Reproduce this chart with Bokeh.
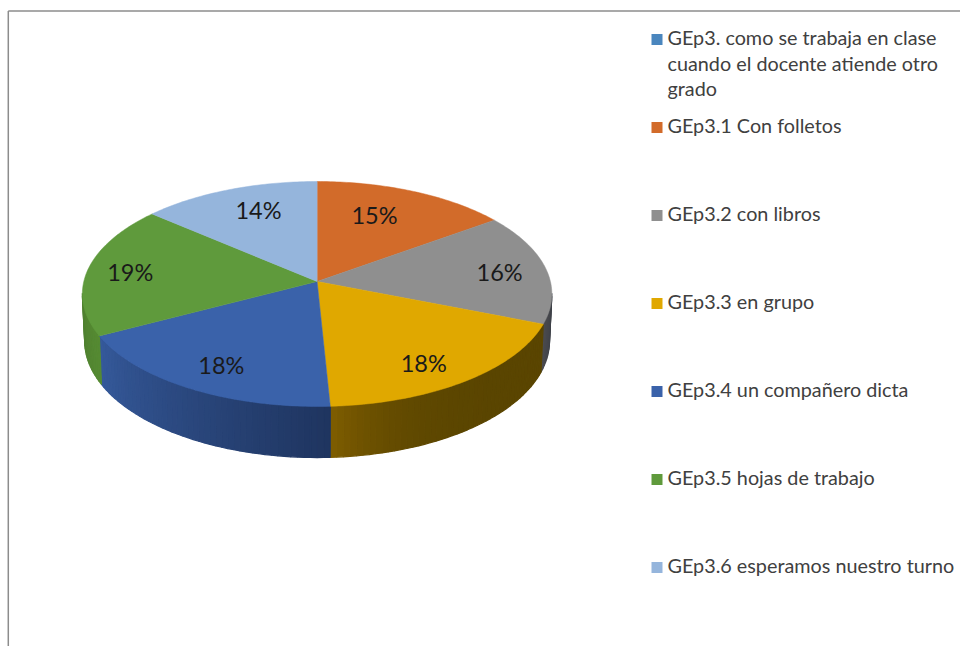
import math
from bokeh.plotting import figure
from bokeh.models import Range1d
from bokeh.core.properties import value
from bokeh.embed import file_html
from bokeh.resources import INLINE

# ---- data ----
categories = ["GEp3. como se trabaja en clase\ncuando el docente atiende otro\ngrado",
              "GEp3.1 Con folletos", "GEp3.2 con libros", "GEp3.3 en grupo",
              "GEp3.4 un compañero dicta", "GEp3.5 hojas de trabajo",
              "GEp3.6 esperamos nuestro turno"]
values = [0, 15, 16, 18.2, 18.1, 19, 13.7]
labels = ["", "15%", "16%", "18%", "18%", "19%", "14%"]
top_colors = ["#4A86BE", "#D26B2A", "#8F8F8F", "#E0A800", "#3A62AA", "#5F9A3C", "#95B5DC"]
wall_start = ["#4A86BE", "#D26B2A", "#3A3E46", "#5A4500", "#1F3560", "#558A32", "#95B5DC"]
wall_end = ["#4A86BE", "#D26B2A", "#4A4A4E", "#7D5C00", "#35599A", "#4F8030", "#95B5DC"]
wall_gamma = [1, 1, 1, 5, 1, 1, 1]
label_dx = [0, -12, 22, 5, -9, -26, 5]
label_dy = [0, -2, 0, 14, 11, -1, -5]

# ---- layout (page pixels) ----
W, H = 960, 646
CX, CY, A, B, K = 316.6, 281.0, 233.3, 111.1, 0.111
D, S = 46.5, 0.99


def top(theta, r=1.0):
    w = 1 + K * r * math.cos(theta)
    return CX + r * A * math.sin(theta) / w, CY - r * B * math.cos(theta) / w


def low(theta):
    x, y = top(theta)
    w = 1 + K * math.cos(theta)
    return CX + (x - CX) * S, CY + (y - CY) * S + D / w


p = figure(width=W, height=H, output_backend="svg", toolbar_location=None,
           x_range=Range1d(0, W), y_range=Range1d(H, 0),
           min_border=0, outline_line_color=None, background_fill_color="white")
p.axis.visible = False
p.grid.visible = False

# frame
p.segment([7.8, 7.8], [10.5, 10.5], [7.8, 960], [646, 10.5], line_color="#8C8C8C", line_width=1.5)

total = sum(values)
cum = 0.0
wall_xs, wall_ys, wall_c = [], [], []
top_xs, top_ys, top_c = [], [], []
lab_x, lab_y, lab_t = [], [], []
SIL0, SIL1 = math.radians(96), math.radians(264)


def lerp(c0, c1, t):
    a = [int(c0[i:i + 2], 16) for i in (1, 3, 5)]
    b = [int(c1[i:i + 2], 16) for i in (1, 3, 5)]
    return "#%02X%02X%02X" % tuple(round(u + (v - u) * t) for u, v in zip(a, b))


for i, v in enumerate(values):
    if v == 0:
        continue
    t0 = cum / total * 2 * math.pi
    cum += v
    t1 = cum / total * 2 * math.pi
    n = max(8, int(v * 4))
    rim = [t0 + (t1 - t0) * j / n for j in range(n + 1)]
    pts = [top(t) for t in rim]
    top_xs.append([CX] + [q[0] for q in pts])
    top_ys.append([CY] + [q[1] for q in pts])
    top_c.append(top_colors[i])
    a0, a1 = max(t0, SIL0), min(t1, SIL1)
    if a1 > a0:
        m = max(6, int((a1 - a0) * 40))
        for j in range(m):
            u0 = a0 + (a1 - a0) * j / m
            u1 = a0 + (a1 - a0) * (j + 1) / m
            q = [top(u0), top(u1), low(u1), low(u0)]
            wall_xs.append([z[0] for z in q])
            wall_ys.append([z[1] for z in q])
            wall_c.append(lerp(wall_start[i], wall_end[i], (j / max(1, m - 1)) ** wall_gamma[i]))
    mid = (t0 + t1) / 2
    lx, ly = top(mid, 0.7)
    lab_x.append(lx + label_dx[i])
    lab_y.append(ly + label_dy[i])
    lab_t.append(labels[i])

p.patches(wall_xs, wall_ys, fill_color=wall_c, line_color=wall_c, line_width=1.2)
p.patches(top_xs, top_ys, fill_color=top_c, line_color=top_c, line_width=0.5)
p.text(lab_x, lab_y, text=lab_t, text_font=value("Lato"), text_font_size="23.5px",
       text_color="#1a1a1a", text_align="center", text_baseline="middle")

# legend
LEG_Y = [39, 127, 215, 303, 391, 479, 567]
LINE_H = 25.5
TEXT_SHIFT = -2.5
p.rect([656.5] * 7, LEG_Y, width=11, height=11, fill_color=top_colors, line_color=None)
tx, ty, tt = [], [], []
for c, y in zip(categories, LEG_Y):
    for k, line in enumerate(c.split("\n")):
        tx.append(667)
        ty.append(y + TEXT_SHIFT + k * LINE_H)
        tt.append(line)
p.text(tx, ty, text=tt, text_font=value("Lato"), text_font_size="19.8px",
       text_color="#404040", text_align="left", text_baseline="middle")

open("out.html", "w").write(file_html(p, INLINE))
